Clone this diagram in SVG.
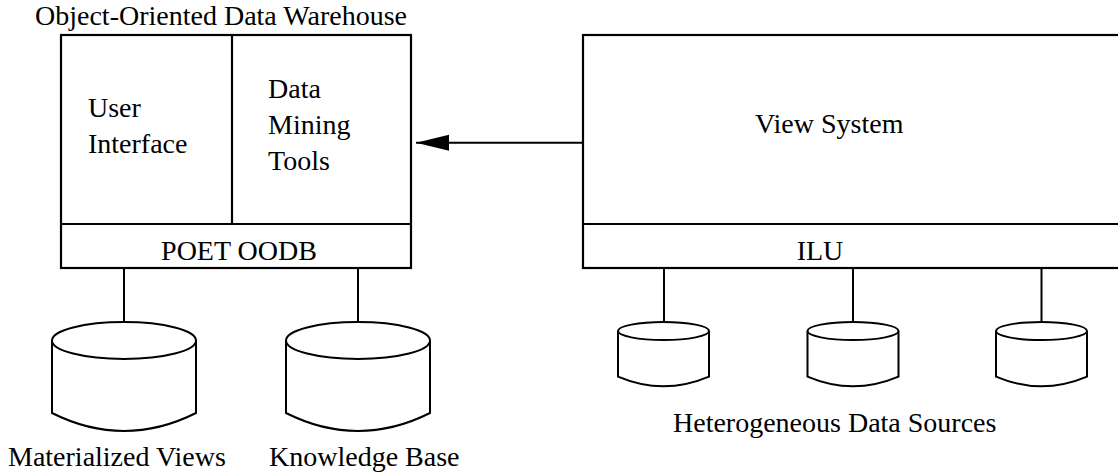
<svg xmlns="http://www.w3.org/2000/svg" width="1118" height="473" viewBox="0 0 1118 473">
<style>
.box{fill:none;stroke:#000;stroke-width:2.2}
.ln{fill:none;stroke:#000;stroke-width:2}
.cyl{fill:#fff;stroke:#000;stroke-width:2}
text{font-family:"Liberation Serif","Times New Roman",serif;font-size:28px;fill:#000}
</style>
<defs>
<marker id="ah" markerWidth="34" markerHeight="17" refX="33" refY="8" orient="auto" markerUnits="userSpaceOnUse">
<path d="M0,0 L33,8 L0,16 Z" fill="#000"/>
</marker>
</defs>
<text x="35" y="25">Object-Oriented Data Warehouse</text>
<g id="warehouse">
<rect class="box" x="61" y="35" width="350" height="233"/>
<line class="box" x1="61" y1="224" x2="411" y2="224"/>
<line class="box" x1="232" y1="35" x2="232" y2="224"/>
<text x="88" y="117">User</text>
<text x="88" y="153">Interface</text>
<text x="268" y="98">Data</text>
<text x="268" y="134">Mining</text>
<text x="268" y="170">Tools</text>
<text x="239" y="260" text-anchor="middle">POET OODB</text>
</g>
<g id="viewsystem">
<rect class="box" x="583" y="35" width="545" height="233"/>
<line class="box" x1="583" y1="224" x2="1128" y2="224"/>
<text x="755" y="133">View System</text>
<text x="820" y="260" text-anchor="middle">ILU</text>
</g>
<g id="connectors">
<line class="ln" x1="582" y1="142.7" x2="416" y2="142.7" marker-end="url(#ah)"/>
<line class="ln" x1="124" y1="268" x2="124" y2="322"/>
<line class="ln" x1="358" y1="268" x2="358" y2="322"/>
<line class="ln" x1="664" y1="268" x2="664" y2="322"/>
<line class="ln" x1="853" y1="268" x2="853" y2="322"/>
<line class="ln" x1="1041.5" y1="268" x2="1041.5" y2="322"/>
</g>
<g id="materialized">
<path class="cyl" d="M52,340.5 L52,413 Q124,449 196,413 L196,340.5"/>
<ellipse class="cyl" cx="124" cy="340.5" rx="72" ry="18.5"/>
<text x="8" y="466">Materialized Views</text>
</g>
<g id="knowledge">
<path class="cyl" d="M286,340.5 L286,413 Q358,449 430,413 L430,340.5"/>
<ellipse class="cyl" cx="358" cy="340.5" rx="72" ry="18.5"/>
<text x="269" y="466">Knowledge Base</text>
</g>
<g id="source1">
<path class="cyl" d="M618,331 L618,376.7 Q663.5,396 709,376.7 L709,331"/>
<ellipse class="cyl" cx="663.5" cy="331" rx="45.5" ry="9"/>
</g>
<g id="source2">
<path class="cyl" d="M807.5,331 L807.5,376.7 Q853,396 898.5,376.7 L898.5,331"/>
<ellipse class="cyl" cx="853" cy="331" rx="45.5" ry="9"/>
</g>
<g id="source3">
<path class="cyl" d="M996,331 L996,376.7 Q1041.5,396 1087,376.7 L1087,331"/>
<ellipse class="cyl" cx="1041.5" cy="331" rx="45.5" ry="9"/>
</g>
<text x="673" y="432">Heterogeneous Data Sources</text>
</svg>
